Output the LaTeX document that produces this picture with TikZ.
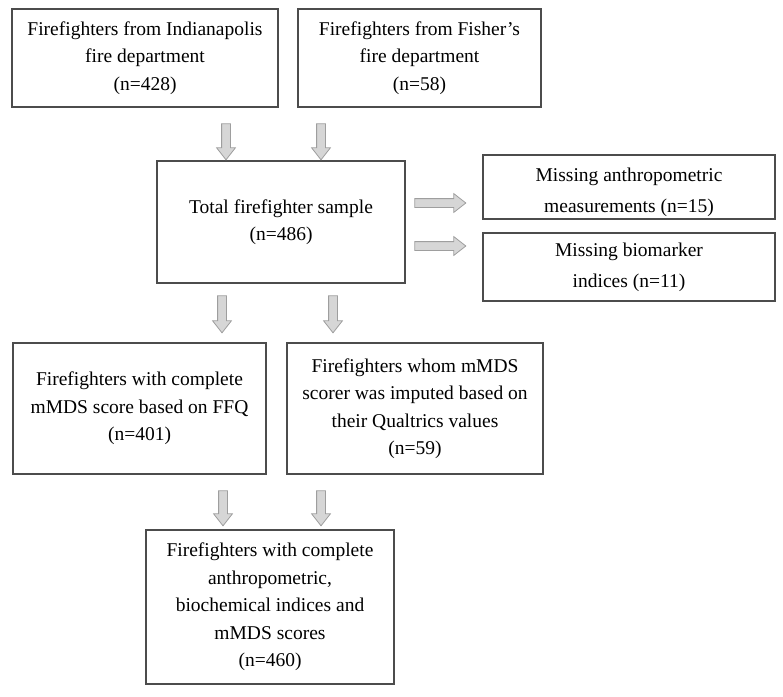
\documentclass[tikz,border=0pt]{standalone}
\usepackage{fontspec}
\setmainfont{Liberation Serif}
\usetikzlibrary{shapes.arrows}
\tikzset{
  box/.style={draw=black!70, line width=1.1pt, align=center, inner sep=0pt,
    font=\fontsize{19.5}{27.5}\selectfont},
  thinbox/.style={box, font=\fontsize{19.5}{31}\selectfont},
  blockarrow/.style={single arrow, draw=black!38, fill=black!16, line width=0.8pt,
    minimum width=18, single arrow head extend=5, single arrow head indent=0,
    single arrow tip angle=76, inner sep=4pt},
  downarrow/.style={blockarrow, shape border rotate=270},
  rightarrow/.style={blockarrow, shape border rotate=0}
}
\begin{document}
\begin{tikzpicture}[x=1pt, y=-1pt]
  \useasboundingbox (0,0) rectangle (783,696);

  \node[box, minimum width=266, minimum height=98] (indy) at (145,58)
    {Firefighters from Indianapolis\\fire department\\(n=428)};
  \node[box, minimum width=243, minimum height=98] (fisher) at (419.5,58)
    {Firefighters from Fisher’s\\fire department\\(n=58)};

  \node[box, minimum width=248, minimum height=122] (total) at (281,222)
    {Total firefighter sample\\(n=486)};

  \node[thinbox, minimum width=292, minimum height=64] (missanthro) at (629,187)
    {\rule{0pt}{24pt}Missing anthropometric\\measurements (n=15)};
  \node[thinbox, minimum width=292, minimum height=68] (missbio) at (629,267)
    {Missing biomarker\\indices (n=11)};

  \node[box, minimum width=253, minimum height=131] (ffq) at (139.5,408.5)
    {Firefighters with complete\\mMDS score based on FFQ\\(n=401)};
  \node[box, minimum width=256, minimum height=131] (imputed) at (415,408.5)
    {Firefighters whom mMDS\\scorer was imputed based on\\their Qualtrics values\\(n=59)};

  \node[box, minimum width=248, minimum height=154] (final) at (270,607)
    {Firefighters with complete\\anthropometric,\\biochemical indices and\\mMDS scores\\(n=460)};

  \node[downarrow, minimum height=36] (arrindy) at (226,139) {};
  \node[downarrow, minimum height=36] (arrfisher) at (321,139) {};
  \node[rightarrow, minimum height=51] (arranthro) at (437.5,203) {};
  \node[rightarrow, minimum height=51] (arrbio) at (437.5,246) {};
  \node[downarrow, minimum height=37] (arrffq) at (222,311.5) {};
  \node[downarrow, minimum height=37] (arrimputed) at (333,311.5) {};
  \node[downarrow, minimum height=35] (arrfinala) at (223,505.5) {};
  \node[downarrow, minimum height=35] (arrfinalb) at (321,505.5) {};
\end{tikzpicture}
\end{document}
